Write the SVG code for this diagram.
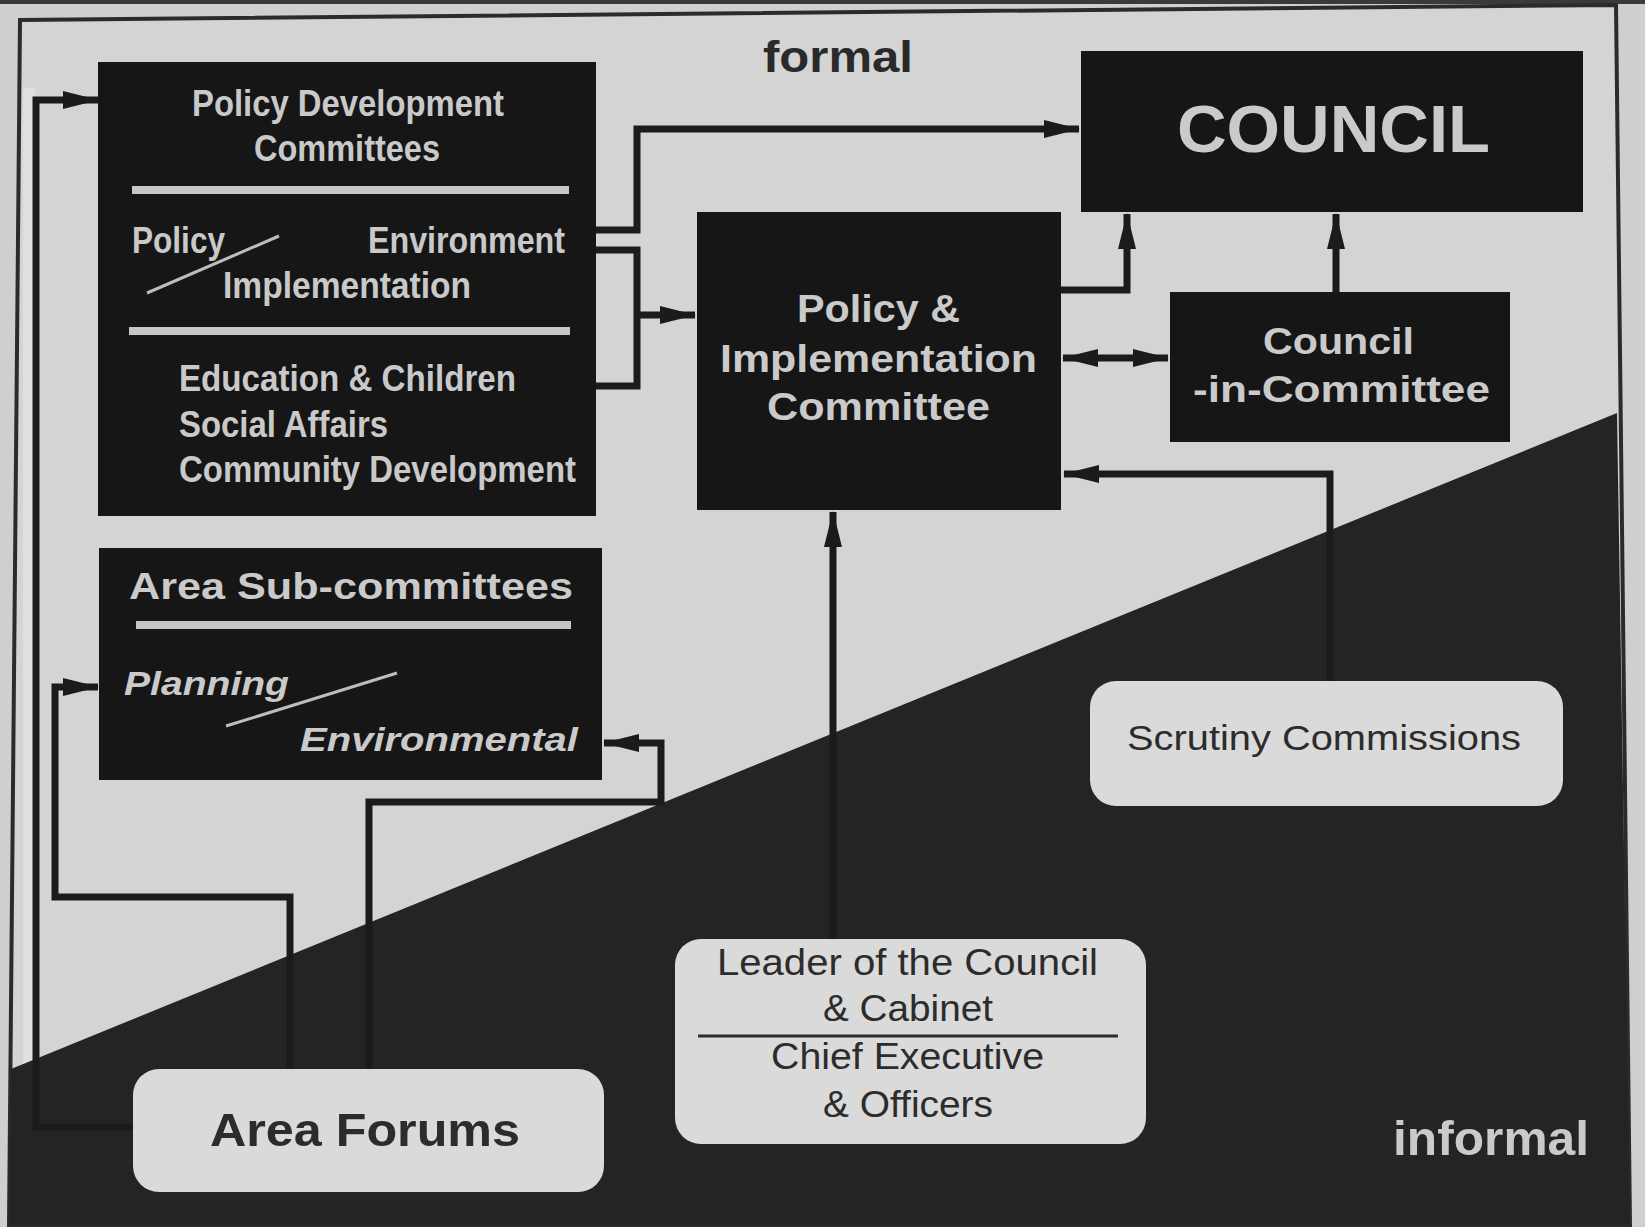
<svg xmlns="http://www.w3.org/2000/svg" width="1645" height="1227" viewBox="0 0 1645 1227">
<defs>
<style>
.box{fill:#161616}
.rbox{fill:#dadada}
.bt{fill:#cacaca;font-family:"Liberation Sans",Arial,sans-serif;font-weight:bold}
.cd{fill:#c9c9c9;font-family:"Liberation Sans",Arial,sans-serif;font-weight:bold}
.it{fill:#cacaca;font-family:"Liberation Sans",Arial,sans-serif;font-weight:bold;font-style:italic}
.dk{fill:#2c2c2c;font-family:"Liberation Sans",Arial,sans-serif}
.conn{fill:none;stroke:#1b1b1b;stroke-width:7;stroke-linejoin:miter}
.sep{stroke:#c6c6c6;stroke-width:8}
.slash{stroke:#bdbdbd;stroke-width:3}
</style>
<marker id="ah" markerUnits="userSpaceOnUse" markerWidth="36" markerHeight="18" refX="35" refY="9" orient="auto-start-reverse">
<path d="M0,0 L36,9 L0,18 Z" fill="#1b1b1b"/>
</marker>
</defs>

<g id="background">
<rect x="0" y="0" width="1645" height="1227" fill="#cfcfcf"/>
<rect x="0" y="0" width="1645" height="4" fill="#3a3a3a"/>
<polygon points="20,20 1616,5 1630,1225 9,1225" fill="#d4d4d4" stroke="#2b2b2b" stroke-width="4"/>
<rect x="23" y="88" width="12" height="980" fill="#e0e0e0"/>
<polygon points="11,1069 1617,413 1630,1225 9,1225" fill="#242424"/>
<text x="763" y="72" font-family="Liberation Sans, Arial, sans-serif" font-weight="bold" font-size="44" fill="#2a2a2a" textLength="150" lengthAdjust="spacingAndGlyphs">formal</text>
<text x="1393" y="1155" class="bt" font-size="49" textLength="196" lengthAdjust="spacingAndGlyphs">informal</text>
</g>

<g id="connectors">
<path class="conn" d="M596,230 H637 V129 H1079" marker-end="url(#ah)"/>
<path class="conn" d="M596,250 H637 V386 H596"/>
<path class="conn" d="M637,315 H695" marker-end="url(#ah)"/>
<path class="conn" d="M1061,290 H1127 V214" marker-end="url(#ah)"/>
<path class="conn" d="M1336,292 V214" marker-end="url(#ah)"/>
<path class="conn" d="M1063,358 H1168" marker-start="url(#ah)" marker-end="url(#ah)"/>
<path class="conn" d="M1330,681 V474 H1064" marker-end="url(#ah)"/>
<path class="conn" stroke-width="6" d="M833,939 V512" marker-end="url(#ah)"/>
<path class="conn" d="M290,1069 V897 H55 V687 H98" marker-end="url(#ah)"/>
<path class="conn" d="M369,1069 V802 H661 V743 H604" marker-end="url(#ah)"/>
<path class="conn" d="M134,1127 H36 V100 H98" marker-end="url(#ah)"/>
</g>

<g id="policy-development-committees">
<rect class="box" x="98" y="62" width="498" height="454"/>
<text class="cd" x="192" y="116" font-size="36" textLength="312" lengthAdjust="spacingAndGlyphs">Policy Development</text>
<text class="cd" x="254" y="161" font-size="36" textLength="186" lengthAdjust="spacingAndGlyphs">Committees</text>
<line class="sep" x1="132" y1="190" x2="569" y2="190"/>
<text class="cd" x="132" y="253" font-size="36" textLength="93" lengthAdjust="spacingAndGlyphs">Policy</text>
<text class="cd" x="368" y="253" font-size="36" textLength="197" lengthAdjust="spacingAndGlyphs">Environment</text>
<line class="slash" x1="147" y1="293" x2="279" y2="236"/>
<text class="cd" x="223" y="298" font-size="36" textLength="248" lengthAdjust="spacingAndGlyphs">Implementation</text>
<line class="sep" x1="129" y1="331" x2="570" y2="331"/>
<text class="cd" x="179" y="391" font-size="36" textLength="337" lengthAdjust="spacingAndGlyphs">Education &amp; Children</text>
<text class="cd" x="179" y="437" font-size="36" textLength="209" lengthAdjust="spacingAndGlyphs">Social Affairs</text>
<text class="cd" x="179" y="482" font-size="36" textLength="397" lengthAdjust="spacingAndGlyphs">Community Development</text>
</g>

<g id="council">
<rect class="box" x="1081" y="51" width="502" height="161"/>
<text class="bt" x="1177" y="152" font-size="66" textLength="313" lengthAdjust="spacingAndGlyphs">COUNCIL</text>
</g>

<g id="policy-implementation-committee">
<rect class="box" x="697" y="212" width="364" height="298"/>
<text class="bt" x="797" y="322" font-size="38" textLength="163" lengthAdjust="spacingAndGlyphs">Policy &amp;</text>
<text class="bt" x="720" y="372" font-size="38" textLength="317" lengthAdjust="spacingAndGlyphs">Implementation</text>
<text class="bt" x="767" y="420" font-size="38" textLength="223" lengthAdjust="spacingAndGlyphs">Committee</text>
</g>

<g id="council-in-committee">
<rect class="box" x="1170" y="292" width="340" height="150"/>
<text class="bt" x="1263" y="354" font-size="37" textLength="151" lengthAdjust="spacingAndGlyphs">Council</text>
<text class="bt" x="1193" y="402" font-size="37" textLength="297" lengthAdjust="spacingAndGlyphs">-in-Committee</text>
</g>

<g id="area-sub-committees">
<rect class="box" x="99" y="548" width="503" height="232"/>
<text class="bt" x="129" y="599" font-size="37" textLength="444" lengthAdjust="spacingAndGlyphs">Area Sub-committees</text>
<line class="sep" x1="136" y1="625" x2="571" y2="625"/>
<text class="it" x="124" y="695" font-size="34" textLength="165" lengthAdjust="spacingAndGlyphs">Planning</text>
<line class="slash" x1="226" y1="726" x2="397" y2="673"/>
<text class="it" x="300" y="751" font-size="34" textLength="278" lengthAdjust="spacingAndGlyphs">Environmental</text>
</g>

<g id="scrutiny-commissions">
<rect class="rbox" x="1090" y="681" width="473" height="125" rx="26"/>
<text class="dk" x="1127" y="750" font-size="35" textLength="394" lengthAdjust="spacingAndGlyphs">Scrutiny Commissions</text>
</g>

<g id="leader-officers">
<rect class="rbox" x="675" y="939" width="471" height="205" rx="26"/>
<text class="dk" x="717" y="975" font-size="36" textLength="381" lengthAdjust="spacingAndGlyphs">Leader of the Council</text>
<text class="dk" x="823" y="1021" font-size="36" textLength="170" lengthAdjust="spacingAndGlyphs">&amp; Cabinet</text>
<line x1="698" y1="1036" x2="1118" y2="1036" stroke="#2c2c2c" stroke-width="3"/>
<text class="dk" x="771" y="1069" font-size="36" textLength="273" lengthAdjust="spacingAndGlyphs">Chief Executive</text>
<text class="dk" x="823" y="1117" font-size="36" textLength="170" lengthAdjust="spacingAndGlyphs">&amp; Officers</text>
</g>

<g id="area-forums">
<rect class="rbox" x="133" y="1069" width="471" height="123" rx="26"/>
<text class="dk" x="210" y="1146" font-size="47" font-weight="bold" textLength="310" lengthAdjust="spacingAndGlyphs">Area Forums</text>
</g>
</svg>
